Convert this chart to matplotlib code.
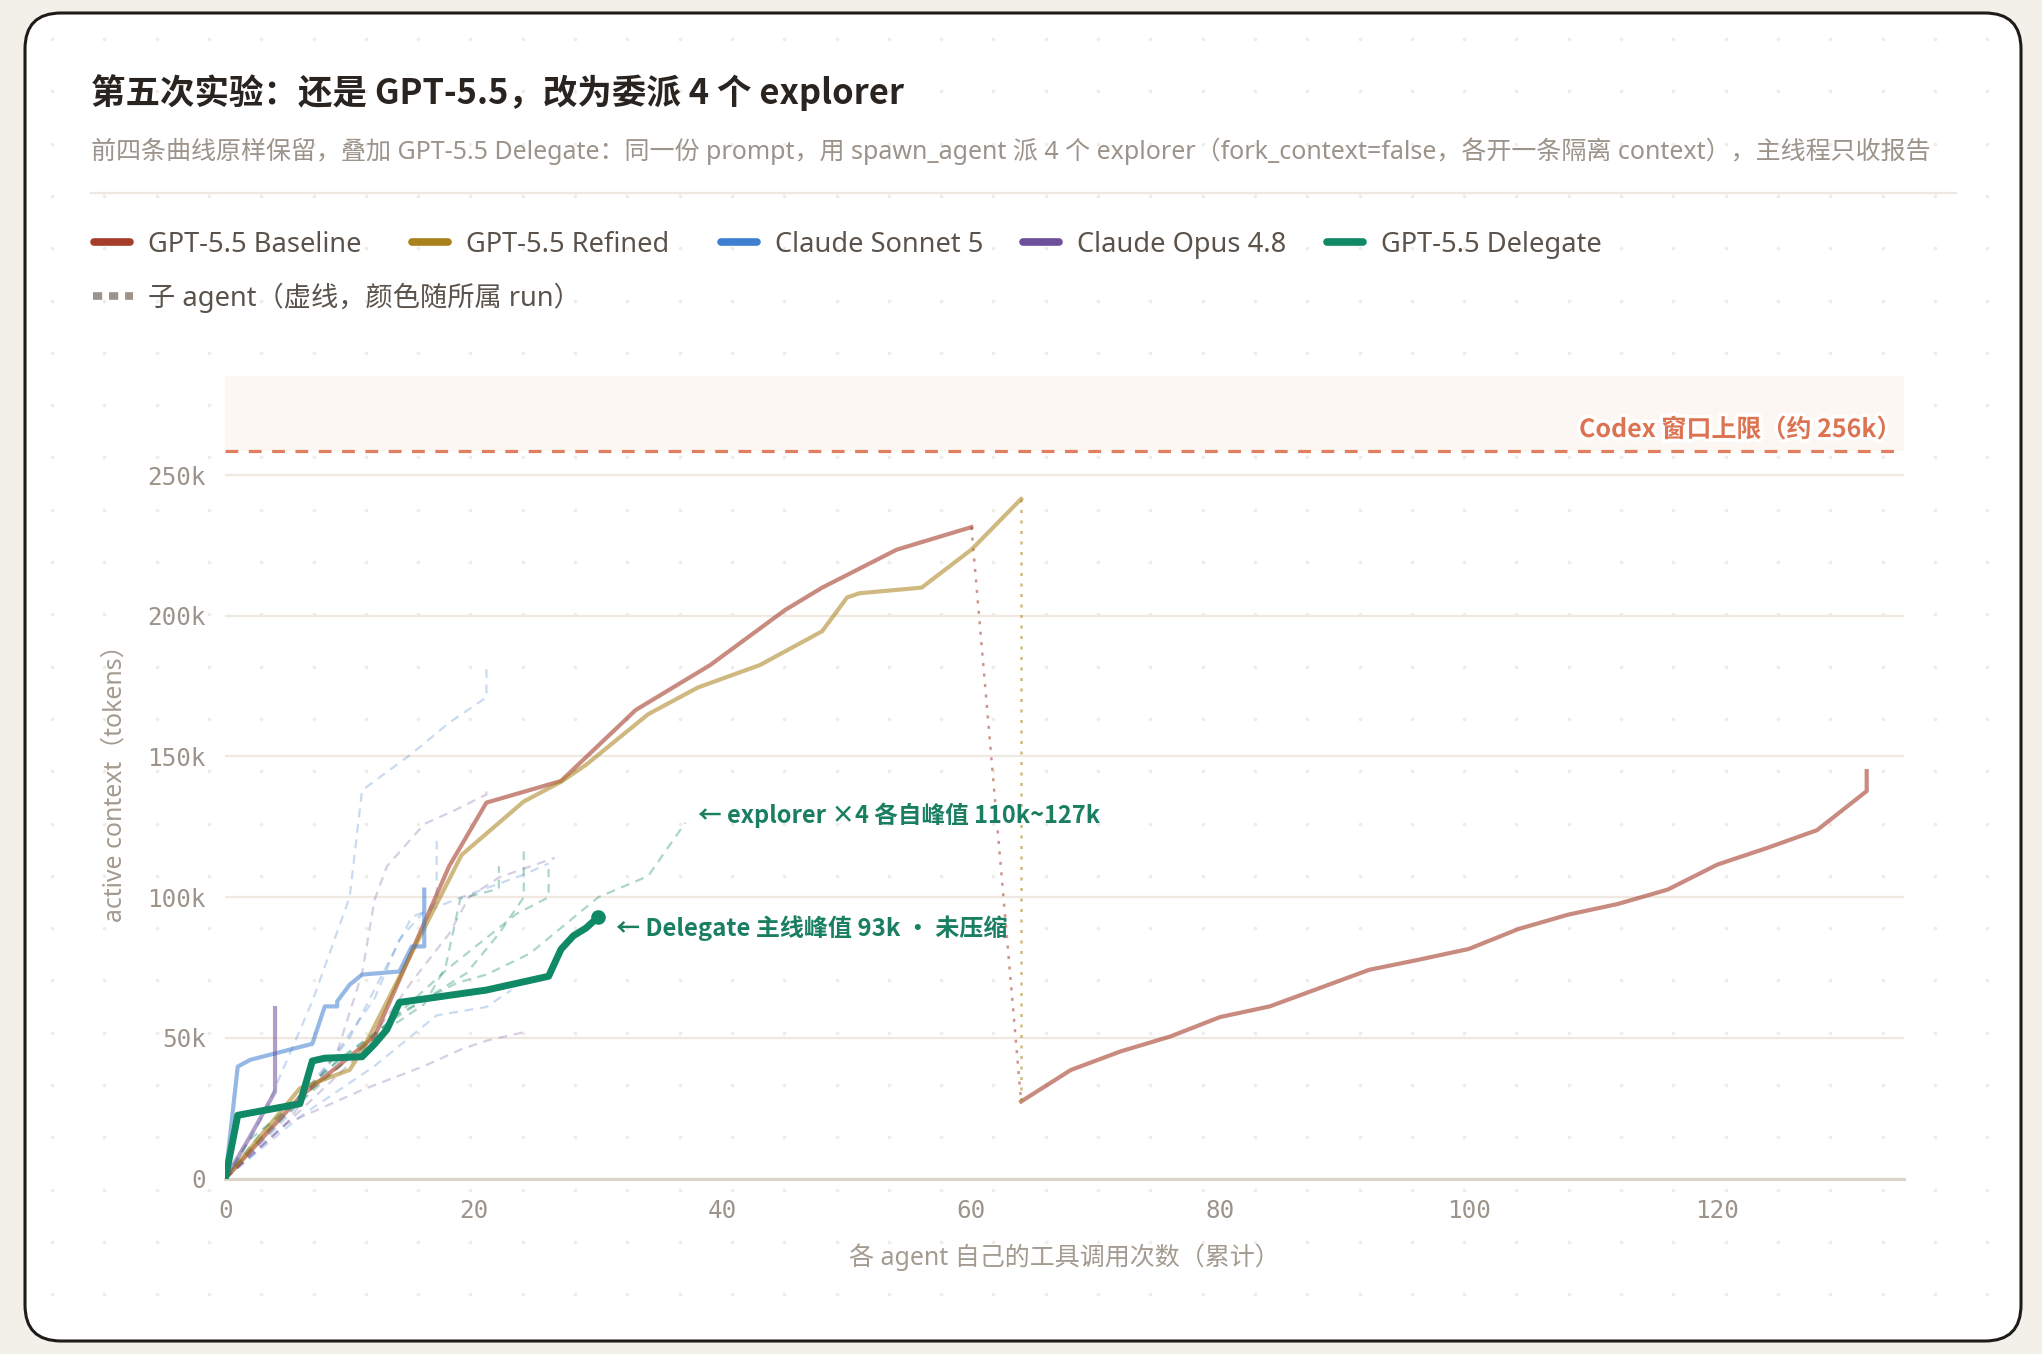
import numpy as np
import matplotlib
matplotlib.use('Agg')
import matplotlib.pyplot as plt
from matplotlib.patches import FancyBboxPatch
from matplotlib.lines import Line2D
import matplotlib.patheffects as pe

REG = ['Noto Sans', 'Noto Sans CJK SC', 'DejaVu Sans']
BOLD = ['Noto Sans CJK SC', 'DejaVu Sans']
MONO = ['DejaVu Sans Mono']
plt.rcParams['font.family'] = REG

# ---- data (tool calls, context in k tokens) ----
baseline_x = [0, 6, 12, 18, 21, 27, 33, 39, 45, 48, 54, 60]
baseline_y = [0, 29, 50.5, 111, 133.6, 141.3, 166.5, 182.5, 202, 210, 223.5, 231.5]
baseline_post_x = [64, 68, 72, 76, 80, 84, 88, 92, 96, 100, 104, 108, 112, 116, 120, 124, 128, 132, 132]
baseline_post_y = [27.4, 38.6, 45.2, 50.5, 57.4, 61.2, 67.7, 74.2, 77.8, 81.6, 88.7, 93.8, 97.6, 102.7,
                   111.6, 117.5, 123.8, 137.7, 144.8]

refined_x = [0, 6, 10, 11, 19, 24, 27, 29, 34, 38, 43, 48, 50, 51, 56, 60, 64]
refined_y = [0, 32.1, 38.6, 45.5, 115, 134, 141, 147, 165, 174.5, 182.5, 194.5, 206.5, 208, 210, 223.5, 241.5]

sonnet_x = [0, 1, 2, 7, 8, 9, 9, 10, 11, 14, 15, 16, 16]
sonnet_y = [0, 39.8, 42.2, 47.9, 61.2, 61.2, 63, 68.9, 72.5, 73.6, 82.5, 82.5, 102.7]

opus_x = [0, 2, 4, 4]
opus_y = [0, 15, 30.9, 60.6]

delegate_x = [0, 1, 6, 7, 8, 11, 12, 13, 14, 21, 26, 27, 28, 29, 30]
delegate_y = [0, 22.5, 26.6, 41.8, 42.8, 43.3, 47.8, 53, 62.6, 67, 71.9, 81.5, 86.3, 89, 93]

# sub agents (dashed)
sonnet_subs = [
    ([0, 3, 7, 10, 11, 15, 18, 21, 21], [0, 22, 63, 100, 138, 151, 162, 171, 181]),
    ([0, 4, 9, 12, 14, 16, 17, 17], [0, 18, 45, 64, 85, 95, 98, 120]),
    ([0, 5, 10, 15, 19, 24, 26], [0, 22, 50, 93, 100, 108, 112]),
    ([0, 6, 12, 17, 21, 23], [0, 22, 40, 58, 61, 67]),
]
opus_subs = [
    ([0, 5, 9, 11, 12, 13, 16, 18.5, 21, 21], [0, 20, 45, 73, 99, 111, 126, 131, 136.5, 139.5]),
    ([0, 5, 11, 16, 19, 21, 24], [0, 19.7, 31.5, 40, 46, 49, 52]),
    ([0, 6, 11, 15, 18, 19.6, 22, 26.5], [0, 24, 45, 70, 87, 100, 107, 114]),
]
explorers = [
    ([0, 3, 8, 14, 18.6, 21, 24.5, 30, 34, 37], [0, 15, 35, 58.8, 69.5, 72.5, 80, 100, 107.5, 126.5]),
    ([0, 4, 9, 14, 19.4, 22, 24, 24], [0, 20, 42, 58, 73, 87, 100, 117]),
    ([0, 3, 8, 13, 18, 23.4, 26, 26], [0, 17, 38, 55, 75, 94, 100, 110]),
    ([0, 2, 7, 12, 16, 17.7, 18.9, 22, 22], [0, 14, 32, 50, 62, 75, 99.5, 103, 111]),
]

codex_limit = 258.4
legend_labels = ['GPT-5.5 Baseline', 'GPT-5.5 Refined', 'Claude Sonnet 5', 'Claude Opus 4.8', 'GPT-5.5 Delegate']

C_BASE = '#A63D2A'
C_REF = '#A8811A'
C_SON = '#3F7FD0'
C_OPUS = '#6E4F9A'
C_DEL = '#108A66'
C_GRAY = '#9C938A'

W, H = 2042, 1354
fig = plt.figure(figsize=(W / 100, H / 100), dpi=100, facecolor='#F3F0E9')
T = fig.dpi_scale_trans


def P(x, y):
    # pixel (from top-left) -> inches
    return x / 100, (H - y) / 100


# card
card = FancyBboxPatch(P(25, 1341), 19.96, 13.28, boxstyle='round,pad=0,rounding_size=0.36',
                      transform=T, facecolor='white', edgecolor='#1E1C1A', linewidth=2.2, zorder=-10)
fig.add_artist(card)

# dot pattern
gx, gy = np.meshgrid(np.arange(52, 2000, 52.3), np.arange(39, 1330, 52.3))
dots = Line2D(gx.ravel() / 100, (H - gy.ravel()) / 100, transform=T, linestyle='none',
              marker='o', markersize=2.6, markerfacecolor='#EFECE7', markeredgewidth=0, zorder=-9)
fig.add_artist(dots)

# header
fig.text(*P(91, 93), '第五次实验：还是 GPT-5.5，改为委派 4 个 explorer', transform=T,
         fontsize=24.8, fontweight='bold', color='#2A2420', va='center', family=BOLD)
fig.text(*P(91, 151), '前四条曲线原样保留，叠加 GPT-5.5 Delegate：同一份 prompt，用 spawn_agent 派 4 个 explorer'
         '（fork_context=false，各开一条隔离 context），主线程只收报告', transform=T,
         fontsize=18, color=C_GRAY, va='center')
fig.add_artist(Line2D([91 / 100, 1956 / 100], [(H - 193) / 100] * 2, transform=T,
                      color='#EEE8E0', linewidth=1.6))

# legend
leg_x = [91, 409, 718, 1020, 1324]
leg_c = [C_BASE, C_REF, C_SON, C_OPUS, C_DEL]
for lx, lc, lab in zip(leg_x, leg_c, legend_labels):
    fig.add_artist(Line2D([(lx + 3) / 100, (lx + 39) / 100], [(H - 242) / 100] * 2, transform=T,
                          color=lc, linewidth=5.5, solid_capstyle='round'))
    fig.text(*P(lx + 57, 245), lab, transform=T, fontsize=19.6, color='#5B534B', va='center')
fig.add_artist(Line2D([93 / 100, 133 / 100], [(H - 296) / 100] * 2, transform=T,
                      color=C_GRAY, linewidth=5.5, dashes=(1.2, 0.9)))
fig.text(*P(148, 298), '子 agent（虚线，颜色随所属 run）', transform=T, fontsize=19.6,
         color='#5B534B', va='center')

# axes
ax = fig.add_axes([225.3 / W, 1 - 1178.6 / H, (1904 - 225.3) / W, (1178.6 - 376) / H])
ax.set_facecolor('none')
ax.set_xlim(0, 135)
ax.set_ylim(0, 285.2)

ax.axhspan(codex_limit, 285.2, color='#FCF7F3', zorder=0, lw=0)
for s in ['top', 'right', 'left']:
    ax.spines[s].set_visible(False)
ax.spines['bottom'].set_color('#DDD5C9')
ax.spines['bottom'].set_linewidth(2.2)
ax.set_yticks([0, 50, 100, 150, 200, 250])
ax.set_yticklabels(['0', '50k', '100k', '150k', '200k', '250k'])
ax.set_xticks([0, 20, 40, 60, 80, 100, 120])
ax.tick_params(length=0, labelsize=17.5, labelcolor=C_GRAY)
ax.tick_params(axis='y', pad=14)
ax.tick_params(axis='x', pad=15)
for lab in ax.get_xticklabels() + ax.get_yticklabels():
    lab.set_family(MONO)
ax.grid(axis='y', color='#EFE9E2', linewidth=1.6)
ax.set_axisbelow(True)

ax.axhline(codex_limit, color='#E07F5F', linewidth=2.3, dashes=(4, 3.3), zorder=2)
ax.text(134.8, 266, 'Codex 窗口上限（约 256k）', ha='right', va='center', fontsize=18,
        fontweight='bold', color='#DC7453', zorder=6, family=BOLD,
        path_effects=[pe.withStroke(linewidth=5, foreground='white')])

# sub-agent dashed lines
for xs, ys in sonnet_subs:
    ax.plot(xs, ys, color=C_SON, alpha=0.28, linewidth=1.6, dashes=(4, 3), zorder=3)
for xs, ys in opus_subs:
    ax.plot(xs, ys, color=C_OPUS, alpha=0.28, linewidth=1.6, dashes=(4, 3), zorder=3)
for xs, ys in explorers:
    ax.plot(xs, ys, color=C_DEL, alpha=0.35, linewidth=1.6, dashes=(4, 3), zorder=3)

# main runs
ax.plot(baseline_x, baseline_y, color=C_BASE, alpha=0.6, linewidth=3, zorder=4)
ax.plot([baseline_x[-1], baseline_post_x[0]], [baseline_y[-1], baseline_post_y[0]],
        color=C_BASE, alpha=0.55, linewidth=1.8, dashes=(1.2, 3), zorder=4)
ax.plot(baseline_post_x, baseline_post_y, color=C_BASE, alpha=0.6, linewidth=3, zorder=4)
ax.plot(refined_x, refined_y, color=C_REF, alpha=0.55, linewidth=3, zorder=4)
ax.plot([refined_x[-1], refined_x[-1]], [refined_y[-1], baseline_post_y[0]],
        color=C_REF, alpha=0.55, linewidth=1.8, dashes=(1.2, 3), zorder=4)
ax.plot(sonnet_x, sonnet_y, color=C_SON, alpha=0.55, linewidth=3, zorder=4)
ax.plot(opus_x, opus_y, color=C_OPUS, alpha=0.55, linewidth=3, zorder=4)
ax.plot(delegate_x, delegate_y, color=C_DEL, linewidth=5, zorder=5,
        solid_joinstyle='round')
ax.plot(delegate_x[-1], delegate_y[-1], 'o', color=C_DEL, markersize=9.5, zorder=5)

ax.text(38, 129.2, '← explorer ×4 各自峰值 110k~127k', fontsize=17, fontweight='bold',
        color='#1A7F60', va='center', zorder=6, family=BOLD)
ax.text(31.4, 88.9, '← Delegate 主线峰值 93k · 未压缩', fontsize=17.3, fontweight='bold',
        color='#1A7F60', va='center', zorder=6, family=BOLD)

ax.set_xlabel('各 agent 自己的工具调用次数（累计）', fontsize=18, color='#A39A90', labelpad=14)
ax.set_ylabel('active context（tokens）', fontsize=17.9, color='#A39A90', labelpad=14)

fig.savefig('out.png', dpi=100, facecolor=fig.get_facecolor())
